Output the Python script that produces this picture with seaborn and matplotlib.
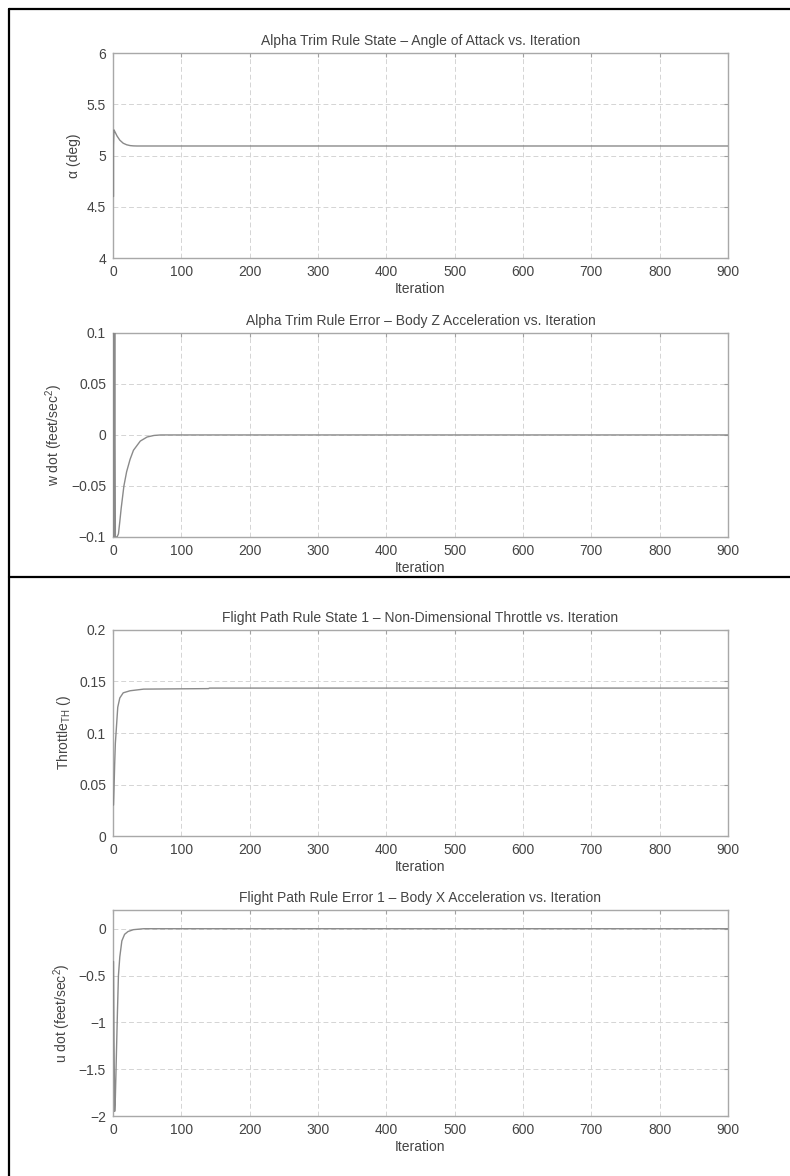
import matplotlib
matplotlib.use("Agg")
import matplotlib.pyplot as plt
from matplotlib.lines import Line2D
from matplotlib.ticker import FuncFormatter, MultipleLocator
import seaborn as sns
from pandas import DataFrame

# alpha trim rule state (angle of attack)
alpha_iter = [0.8, 0.8, 1.5, 3, 6, 10, 15, 20, 25, 30, 35, 40, 900]
alpha_deg = [4.6, 5.1, 5.25, 5.23, 5.19, 5.15, 5.12, 5.105, 5.097, 5.094, 5.093, 5.093, 5.093]

# alpha trim rule error (body z acceleration)
wdot_iter = [0.8, 1.5, 2.5, 3.5, 4.5, 6, 8, 10, 12, 16, 20, 25, 30, 40, 50, 60, 70, 900]
wdot = [0.1, -0.1, 0.1, -0.1, -0.1, -0.1, -0.097, -0.085, -0.072, -0.05, -0.036, -0.024,
        -0.015, -0.006, -0.002, -0.0005, 0.0, 0.0]

# flight path rule state 1 (throttle)
thr_iter = [0.8, 1.5, 2.5, 3.5, 4.5, 5.5, 7, 10, 15, 25, 45, 140, 141, 900]
throttle = [0.03, 0.045, 0.07, 0.09, 0.1, 0.11, 0.125, 0.134, 0.139, 0.141, 0.1426, 0.1431,
            0.1436, 0.1436]

# flight path rule error 1 (body x acceleration)
udot_iter = [0.8, 1.5, 2.5, 3.5, 4.5, 5.5, 6.5, 8, 10, 13, 17, 22, 30, 45, 900]
udot = [-0.35, -1.2, -1.95, -1.8, -1.5, -1.2, -0.9, -0.5, -0.3, -0.13, -0.06, -0.03, -0.01, 0.0, 0.0]

titles = ["Alpha Trim Rule State \u2013 Angle of Attack vs. Iteration",
          "Alpha Trim Rule Error \u2013 Body Z Acceleration vs. Iteration",
          "Flight Path Rule State 1 \u2013 Non-Dimensional Throttle vs. Iteration",
          "Flight Path Rule Error 1 \u2013 Body X Acceleration vs. Iteration"]
ylabels = ["\u03b1 (deg)", "w dot (feet/sec$^2$)", "Throttle$_{TH}$ ()", "u dot (feet/sec$^2$)"]

sns.set_style("white")
plt.rcParams['font.family'] = ['Liberation Sans', 'DejaVu Sans']
plt.rcParams['mathtext.fontset'] = 'custom'
plt.rcParams['mathtext.rm'] = 'Liberation Sans'
plt.rcParams['mathtext.it'] = 'Liberation Sans'

fig = plt.figure(figsize=(7.9, 11.76), dpi=100)

# axes boxes in figure fractions (left, bottom, width, height)
boxes = [[0.143, 0.7806, 0.7785, 0.1743],
         [0.143, 0.5434, 0.7785, 0.1735],
         [0.143, 0.2891, 0.7785, 0.1752],
         [0.143, 0.0510, 0.7785, 0.1752]]

series = [(alpha_iter, alpha_deg, (4, 6), 0.5),
          (wdot_iter, wdot, (-0.1, 0.1), 0.05),
          (thr_iter, throttle, (0, 0.2), 0.05),
          (udot_iter, udot, (-2, 0.2), 0.5)]


def fmt(v, pos):
    s = "%g" % round(v, 6)
    if s == "-0":
        s = "0"
    return s.replace("-", "\u2212")


for i in range(4):
    ax = fig.add_axes(boxes[i])
    xs, ys, lim, step = series[i]
    dfs = DataFrame({"it": xs, "val": ys})
    sns.lineplot(data=dfs, x="it", y="val", ax=ax, estimator=None, sort=False,
                 color="#8a8a8a", linewidth=1.0, zorder=3)
    ax.set_xlim(0, 900)
    ax.set_ylim(lim)
    ax.xaxis.set_major_locator(MultipleLocator(100))
    ax.yaxis.set_major_locator(MultipleLocator(step))
    ax.yaxis.set_major_formatter(FuncFormatter(fmt))
    ax.grid(True, linestyle=(0, (5, 3)), color="#d4d4d4", linewidth=0.7)
    ax.tick_params(direction="in", length=3, width=0.8, color="#a0a0a0",
                   labelsize=10, labelcolor="#444444", top=True, right=True, pad=5)
    for sp in ax.spines.values():
        sp.set_color("#a8a8a8")
        sp.set_linewidth(1.0)
    ax.set_title(titles[i], fontsize=10, color="#444444", pad=6)
    ax.set_xlabel("Iteration", fontsize=10, color="#444444", labelpad=2)
    ax.set_ylabel(ylabels[i], fontsize=10, color="#444444", labelpad=4)

# outer frame lines of the page
fig.add_artist(Line2D([9 / 790, 9 / 790], [0, 1 - 9 / 1176], color="black", linewidth=1.6))
fig.add_artist(Line2D([9 / 790, 1], [1 - 9 / 1176, 1 - 9 / 1176], color="black", linewidth=1.6))
fig.add_artist(Line2D([9 / 790, 1], [1 - 577 / 1176, 1 - 577 / 1176], color="black", linewidth=1.6))

fig.savefig("out.png", dpi=100, facecolor="white")
